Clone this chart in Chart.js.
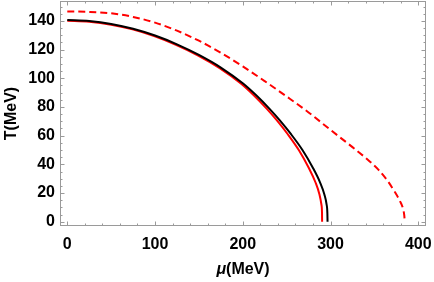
<!DOCTYPE html>
<html>
<head>
<meta charset="utf-8">
<script src="https://cdn.jsdelivr.net/npm/chart.js@4"></script>
<style>
    html, body { margin: 0; padding: 0; background: #fff; }
    #wrap { width: 434px; height: 282px; }
</style>
</head>
<body>
<div id="wrap"><canvas id="myChart"></canvas></div>
<script>
// 横軸 μ(MeV) と縦軸 T(MeV) の目盛り
const xTicks = [0, 100, 200, 300, 400];
const yTicks = [0, 20, 40, 60, 80, 100, 120, 140];

// 黒の実線
const blackMu = [0, 25, 50, 75, 100, 125, 150, 175, 200, 215, 230, 242, 255, 268, 280, 288, 293, 295.5, 296.4, 296.6];
const blackT = [140.6, 139.9, 137.9, 134.5, 129.8, 123.7, 116.3, 107.5, 96.5, 88.3, 79.0, 70.8, 61.0, 50.0, 37.5, 27.5, 19.0, 12.0, 6.0, 0];

// 赤の実線
const redMu = [0, 25, 50, 74.3, 99, 123.8, 148.6, 173.2, 197.8, 212.5, 227.2, 238.9, 251.5, 264, 275.3, 282.8, 287.4, 289.6, 290.3, 290.4];
const redT = [140.1, 139.4, 137.4, 134.1, 129.4, 123.3, 116.0, 107.2, 96.3, 88.1, 78.8, 70.6, 60.8, 49.8, 37.4, 27.5, 19.0, 12.0, 6.0, 0];

// 赤の破線
const dashMu = [0, 25, 50, 75, 100, 125, 150, 175, 200, 225, 250, 275, 300, 325, 340, 355, 365, 373, 379, 382.5, 384, 384.6];
const dashT = [146.6, 146.3, 145.3, 142.8, 138.8, 133.2, 126.2, 117.8, 108.3, 98.0, 87.3, 76.2, 64.0, 52.0, 44.5, 36.0, 28.5, 21.0, 14.5, 9.3, 4.6, 0];

// x と y の配列を点の配列にまとめる
function toPoints(xs, ys) {
    return xs.map((x, i) => ({ x: x, y: ys[i] }));
}

const fontFamily = "'Liberation Sans', Arial, sans-serif";
const font = { family: fontFamily, size: 16, weight: "bold" };

// 枠と内向きの目盛り線を描くプラグイン
const framePlugin = {
    id: "frame",
    afterDraw(chart) {
        const { ctx, chartArea: a, scales } = chart;
        const xs = scales.x, ys = scales.y;
        ctx.save();
        ctx.strokeStyle = "#9a9a9a";
        ctx.lineWidth = 1;
        ctx.strokeRect(a.left + 0.5, a.top + 0.5, a.right - a.left - 1, a.bottom - a.top - 1);
        ctx.beginPath();
        for (let v = 0; v <= 400; v += 20) {
            const px = Math.round(xs.getPixelForValue(v)) + 0.5;
            const len = v % 100 === 0 ? 4.5 : 2.5;
            ctx.moveTo(px, a.bottom); ctx.lineTo(px, a.bottom - len);
            ctx.moveTo(px, a.top); ctx.lineTo(px, a.top + len);
        }
        for (let v = 0; v <= 150; v += 5) {
            const py = Math.round(ys.getPixelForValue(v)) + 0.5;
            const len = v % 20 === 0 ? 4.5 : 2.5;
            ctx.moveTo(a.left, py); ctx.lineTo(a.left + len, py);
            ctx.moveTo(a.right, py); ctx.lineTo(a.right - len, py);
        }
        ctx.stroke();

        // 横軸タイトル（μ だけ斜体）
        const cx = (a.left + a.right) / 2;
        const ty = 270;
        ctx.fillStyle = "#000";
        ctx.textBaseline = "middle";
        ctx.font = "italic bold 16px " + fontFamily;
        const w1 = ctx.measureText("μ").width;
        ctx.font = "bold 16px " + fontFamily;
        const w2 = ctx.measureText("(MeV)").width;
        const sx = cx - (w1 + w2) / 2;
        ctx.font = "italic bold 16px " + fontFamily;
        ctx.fillText("μ", sx, ty);
        ctx.font = "bold 16px " + fontFamily;
        ctx.fillText("(MeV)", sx + w1, ty);
        ctx.restore();
    },
};

function lineSet(xs, ys, color, dash) {
    return {
        data: toPoints(xs, ys),
        showLine: true,
        borderColor: color,
        borderWidth: 2,
        borderDash: dash,
        pointRadius: 0,
        cubicInterpolationMode: "monotone",
    };
}

function drawChart() {
    const ctx = document.getElementById("myChart");
    new Chart(ctx, {
        type: "scatter",
        data: {
            datasets: [
                lineSet(blackMu, blackT, "#000000", []),
                lineSet(redMu, redT, "#ff0000", []),
                lineSet(dashMu, dashT, "#ff0000", [7, 4]),
            ],
        },
        options: {
            responsive: true,
            maintainAspectRatio: false,
            animation: false,
            events: [],
            layout: { padding: { top: 1, right: 8, left: 0, bottom: 0 } },
            plugins: { legend: { display: false }, tooltip: { enabled: false } },
            scales: {
                x: {
                    type: "linear",
                    min: -8.3,
                    max: 408.8,
                    grid: { display: false, drawTicks: false },
                    border: { display: false },
                    afterBuildTicks: (s) => { s.ticks = xTicks.map((v) => ({ value: v })); },
                    afterFit: (s) => { s.height = 56; s.paddingLeft = 0; s.paddingRight = 0; },
                    ticks: { color: "#000", font: font, padding: 9, maxRotation: 0 },
                    title: { display: false, text: "μ(MeV)" },
                },
                y: {
                    type: "linear",
                    min: -3,
                    max: 153.9,
                    grid: { display: false, drawTicks: false },
                    border: { display: false },
                    afterBuildTicks: (s) => { s.ticks = yTicks.map((v) => ({ value: v })); },
                    afterFit: (s) => { s.width = 60; s.paddingTop = 0; s.paddingBottom = 0; },
                    ticks: { color: "#000", font: font, padding: 5 },
                    title: { display: true, text: "T(MeV)", color: "#000", font: font, padding: { top: 2, bottom: 0 } },
                },
            },
        },
        plugins: [framePlugin],
    });
}

window.onload = function () {
    drawChart();
};
</script>
</body>
</html>
